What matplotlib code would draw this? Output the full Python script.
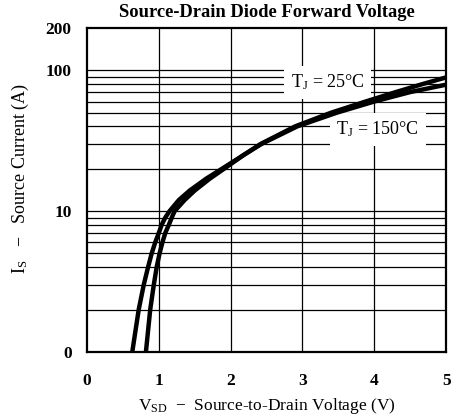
import matplotlib
matplotlib.use("Agg")
import matplotlib.pyplot as plt

plt.rcParams['font.family'] = ['Liberation Serif', 'DejaVu Serif']
plt.rcParams['mathtext.fontset'] = 'custom'
plt.rcParams['mathtext.rm'] = 'Liberation Serif'
plt.rcParams['mathtext.it'] = 'Liberation Serif'

is_150 = [1, 2, 3, 4, 5, 6, 7, 8, 9, 10, 12, 14, 17, 20, 25, 30, 40, 50, 60, 70, 79]
vsd_150 = [0.63, 0.72, 0.79, 0.85, 0.90, 0.95, 1.00, 1.04, 1.09, 1.15, 1.28, 1.43,
           1.66, 1.88, 2.18, 2.43, 2.93, 3.48, 4.0, 4.5, 5.0]
is_25 = [1, 2, 3, 4, 5, 6, 7, 8, 9, 10, 12, 14, 17, 20, 25, 30, 40, 50, 60, 70, 80, 89]
vsd_25 = [0.82, 0.88, 0.93, 0.97, 1.01, 1.05, 1.09, 1.14, 1.18, 1.22, 1.36, 1.50,
          1.71, 1.91, 2.18, 2.42, 2.90, 3.40, 3.88, 4.30, 4.68, 5.0]

ytick_vals = [1, 10, 100, 200]
ytick_labels = ['0', '10', '100', '200']
xtick_vals = [0, 1, 2, 3, 4, 5]

fig = plt.figure(figsize=(4.58, 4.16), dpi=100)
ax = fig.add_axes([0.19, 0.154, 0.784, 0.779])

ax.set_yscale('log')
ax.set_xlim(0, 5)
ax.set_ylim(1, 200)

# grid
for d in [1, 10]:
    for m in range(2, 11):
        ax.axhline(m * d, color='black', lw=0.9, zorder=1)
for v in [1, 2, 3, 4]:
    ax.axvline(v, color='black', lw=0.9, zorder=1)

ax.plot(vsd_150, is_150, color='black', lw=3.2, zorder=3, solid_joinstyle='round')
ax.plot(vsd_25, is_25, color='black', lw=3.2, zorder=3, solid_joinstyle='round')

box = dict(facecolor='white', edgecolor='none', pad=5)
ax.text(3.35, 82, r'T$_\mathrm{J}$ = 25°C', fontsize=13, ha='center', va='center',
        bbox=box, zorder=2)
ax.text(4.05, 38, r'T$_\mathrm{J}$ = 150°C', fontsize=13, ha='center', va='center',
        bbox=box, zorder=2)

ax.set_yticks(ytick_vals)
ax.set_yticklabels(ytick_labels)
ax.yaxis.set_minor_locator(matplotlib.ticker.NullLocator())
ax.set_xticks(xtick_vals)
ax.tick_params(length=0, labelsize=12.5)
ax.tick_params(axis='x', pad=15)
ax.tick_params(axis='y', pad=11)
for lab in ax.get_xticklabels() + ax.get_yticklabels():
    lab.set_fontweight('bold')

for s in ax.spines.values():
    s.set_linewidth(1.6)

ax.set_title('Source-Drain Diode Forward Voltage', fontsize=13.3, fontweight='bold', pad=8)
ax.set_xlabel(r'V$_\mathrm{SD}$  $-$  Source-to-Drain Voltage (V)', fontsize=12.5, labelpad=5)
ax.set_ylabel(r'I$_\mathrm{S}$   $-$   Source Current (A)', fontsize=13)
ax.yaxis.set_label_coords(-0.155, 0.534)

fig.savefig('out.png', dpi=100)
